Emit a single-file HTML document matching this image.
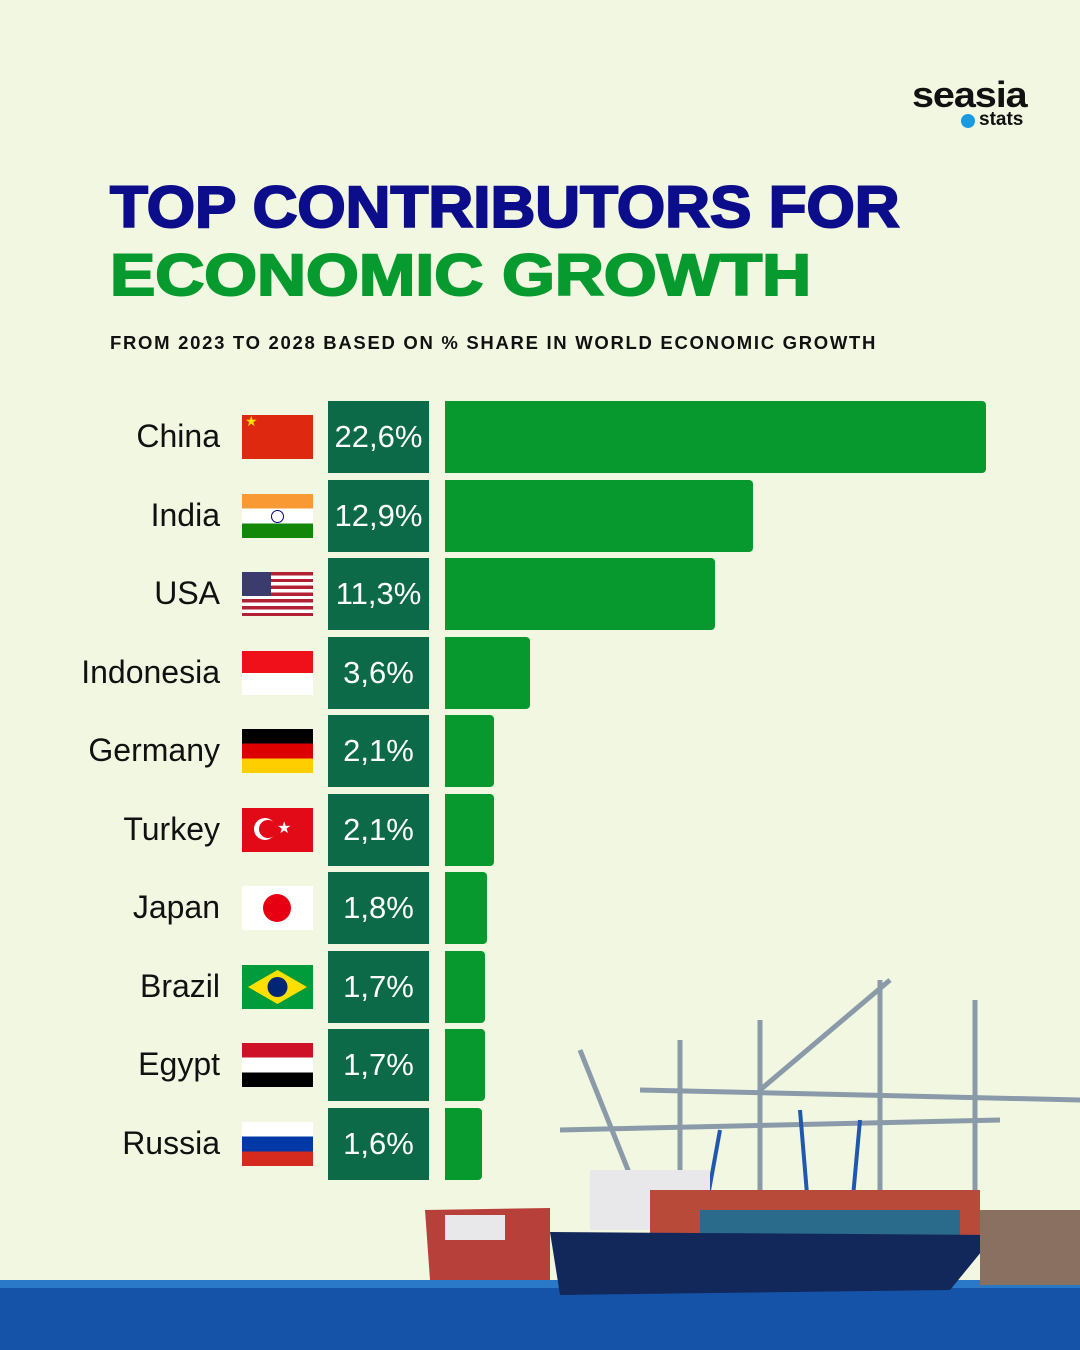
<!DOCTYPE html>
<html><head><meta charset="utf-8"><style>
body{margin:0;width:1080px;height:1350px;background:#f2f7e2;position:relative;overflow:hidden;font-family:"Liberation Sans",sans-serif}
.t{position:absolute;left:110px;font-weight:900;font-size:58px;letter-spacing:0;-webkit-text-stroke:2px currentColor;transform-origin:0 0;white-space:nowrap}
.sub{position:absolute;left:110px;top:332px;font-weight:bold;font-size:18.5px;letter-spacing:1.7px;color:#111;white-space:nowrap}
.row{position:absolute;left:0;width:1080px;height:72px}
.name{position:absolute;right:860px;top:17px;font-size:32px;color:#111}
.flag{position:absolute;left:242px;top:14px;width:71px;height:44px;overflow:hidden}
.val{position:absolute;left:328px;top:0;width:101px;height:72px;background:#0c6a48;color:#fff;font-size:31px;text-align:center;line-height:72px;letter-spacing:0}
.bar{position:absolute;left:445px;top:0;height:72px;background:#07992d;border-radius:0 4px 4px 0}
</style></head><body>
<div style="position:absolute;left:912px;top:74px;font-weight:900;font-size:36px;letter-spacing:-1px;color:#111;transform:scaleX(1.1);transform-origin:0 0">seasia</div>
<div style="position:absolute;left:961px;top:114px;width:14px;height:14px;border-radius:50%;background:#1a9be0"></div>
<div style="position:absolute;left:979px;top:109px;font-weight:bold;font-size:19px;color:#111">stats</div>
<div class="t" style="top:174px;color:#0c0d8a;transform:scaleX(1.07)">TOP CONTRIBUTORS FOR</div>
<div class="t" style="top:242px;color:#079a2f;transform:scaleX(1.17)">ECONOMIC GROWTH</div>
<div class="sub">FROM 2023 TO 2028 BASED ON % SHARE IN WORLD ECONOMIC GROWTH</div>

<svg style="position:absolute;left:0;top:960px" width="1080" height="390">
<rect x="0" y="322" width="1080" height="68" fill="#1553a8"/>
<rect x="0" y="320" width="1080" height="8" fill="#2a78c8"/>
<g stroke="#8a9aa8" stroke-width="5" fill="none">
<line x1="640" y1="130" x2="1080" y2="140"/><line x1="560" y1="170" x2="1000" y2="160"/>
<line x1="760" y1="60" x2="760" y2="280"/><line x1="880" y1="20" x2="880" y2="260"/>
<line x1="975" y1="40" x2="975" y2="250"/><line x1="680" y1="80" x2="680" y2="260"/>
<line x1="580" y1="90" x2="640" y2="240"/><line x1="890" y1="20" x2="760" y2="130"/>
</g>
<g stroke="#2058b0" stroke-width="4"><line x1="720" y1="170" x2="700" y2="280"/><line x1="800" y1="150" x2="810" y2="270"/><line x1="860" y1="160" x2="850" y2="270"/></g>
<rect x="590" y="210" width="120" height="60" fill="#e8e8ea"/>
<rect x="650" y="230" width="330" height="45" fill="#b84a3a"/>
<rect x="700" y="250" width="260" height="25" fill="#2a6a8a"/>
<path d="M550 272 L995 275 L950 330 L560 335 Z" fill="#13285a"/>
<path d="M425 250 L550 248 L550 320 L430 320 Z" fill="#b8403a"/>
<rect x="445" y="255" width="60" height="25" fill="#e8e8ea"/>
<rect x="980" y="250" width="100" height="75" fill="#8a7060"/>
</svg>

<div class="row" style="top:401px"><div class="name">China</div><div class="flag" style="background:#de2910"><span style="position:absolute;left:3px;top:-2px;color:#ffde00;font-size:14px">★</span></div><div class="val">22,6%</div><div class="bar" style="width:541px"></div></div>
<div class="row" style="top:479.5px"><div class="name">India</div><div class="flag" style="background:linear-gradient(#f99933 33%,#fff 33% 67%,#138808 67%)"><div style="position:absolute;left:29px;top:16px;width:11px;height:11px;border:1px solid #000080;border-radius:50%"></div></div><div class="val">12,9%</div><div class="bar" style="width:308px"></div></div>
<div class="row" style="top:558px"><div class="name">USA</div><div class="flag" style="background:repeating-linear-gradient(#b22234 0 3.4px,#fff 3.4px 6.8px)"><div style="position:absolute;left:0;top:0;width:29px;height:24px;background:#3c3b6e"></div></div><div class="val">11,3%</div><div class="bar" style="width:270px"></div></div>
<div class="row" style="top:636.5px"><div class="name">Indonesia</div><div class="flag" style="background:linear-gradient(#f0101a 50%,#fff 50%)"></div><div class="val">3,6%</div><div class="bar" style="width:85px"></div></div>
<div class="row" style="top:715px"><div class="name">Germany</div><div class="flag" style="background:linear-gradient(#000 33%,#dd0000 33% 67%,#ffce00 67%)"></div><div class="val">2,1%</div><div class="bar" style="width:49px"></div></div>
<div class="row" style="top:793.5px"><div class="name">Turkey</div><div class="flag" style="background:#e30a17"><div style="position:absolute;left:12px;top:10px;width:22px;height:22px;border-radius:50%;background:#fff"></div><div style="position:absolute;left:17px;top:12px;width:18px;height:18px;border-radius:50%;background:#e30a17"></div><span style="position:absolute;left:35px;top:10px;color:#fff;font-size:16px">★</span></div><div class="val">2,1%</div><div class="bar" style="width:49px"></div></div>
<div class="row" style="top:872px"><div class="name">Japan</div><div class="flag" style="background:#fff"><div style="position:absolute;left:21px;top:8px;width:28px;height:28px;border-radius:50%;background:#e60012"></div></div><div class="val">1,8%</div><div class="bar" style="width:42px"></div></div>
<div class="row" style="top:950.5px"><div class="name">Brazil</div><div class="flag" style="background:#009b3a"><svg width="71" height="44" style="position:absolute;left:0;top:0"><polygon points="35.5,5 65,22 35.5,39 6,22" fill="#fedf00"/><circle cx="35.5" cy="22" r="10" fill="#002776"/></svg></div><div class="val">1,7%</div><div class="bar" style="width:40px"></div></div>
<div class="row" style="top:1029px"><div class="name">Egypt</div><div class="flag" style="background:linear-gradient(#ce1126 33%,#fff 33% 67%,#000 67%)"></div><div class="val">1,7%</div><div class="bar" style="width:40px"></div></div>
<div class="row" style="top:1107.5px"><div class="name">Russia</div><div class="flag" style="background:linear-gradient(#fff 33%,#0039a6 33% 67%,#d52b1e 67%)"></div><div class="val">1,6%</div><div class="bar" style="width:37px"></div></div>
</body></html>
